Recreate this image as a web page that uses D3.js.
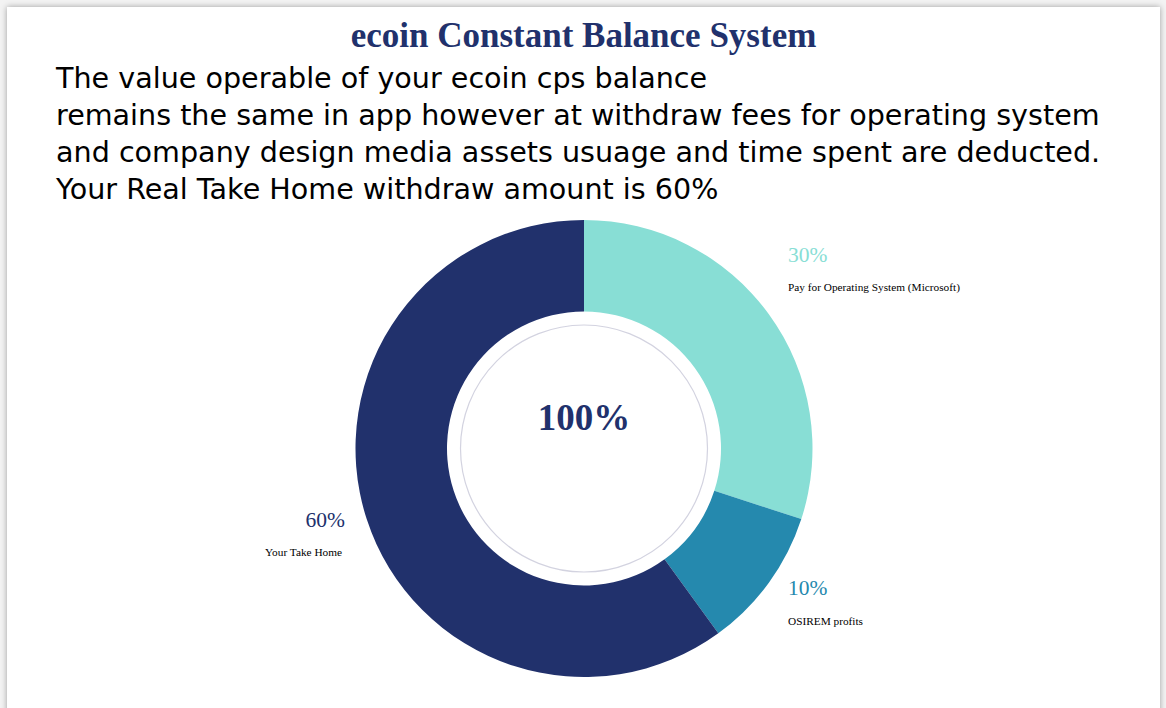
<!DOCTYPE html>
<html>
<head>
<meta charset="utf-8">
<script src="https://cdn.jsdelivr.net/npm/d3@7"></script>
<style>
  html, body { margin: 0; padding: 0; background: #f3f3f3; overflow: hidden; }
  .card {
    position: absolute; left: 7px; top: 7px; width: 1153px; height: 760px;
    background: #fff; box-shadow: 0 0 6px rgba(0,0,0,0.35);
  }
  .card h1 {
    margin: 0; position: absolute; top: 9px; left: 0; width: 100%;
    text-align: center; font-family: "Liberation Serif", serif; font-weight: bold;
    font-size: 35px; color: #21316c;
  }
  .card p {
    margin: 0; position: absolute; left: 49px; top: 53px;
    font-family: "DejaVu Sans", sans-serif; font-size: 28.6px; line-height: 37px; color: #000;
  }
  svg { position: absolute; left: 0; top: 0; }
</style>
</head>
<body>
<div class="card">
  <h1>ecoin Constant Balance System</h1>
  <p>The value operable of your ecoin cps balance<br>remains the same in app however at withdraw fees for operating system<br>and company design media assets usuage and time spent are deducted.<br>Your Real Take Home withdraw amount is 60%</p>
</div>
<svg id="chart" width="1166" height="708"></svg>
<script>
const labels = ["Pay for Operating System (Microsoft)", "OSIREM profits", "Your Take Home"];
const values = [30, 10, 60];
const colors = ["#88ded5", "#2589ae", "#21316c"];
const centerLabel = "100%";

const svg = d3.select("#chart");
const cx = 584, cy = 448.5;
const outerR = 228.5, innerR = 137;

const g = svg.append("g").attr("transform", "translate(" + cx + "," + cy + ")");

const pie = d3.pie().value(d => d).sort(null);
const arc = d3.arc().innerRadius(innerR).outerRadius(outerR);
const arcs = pie(values);

g.selectAll("path.slice")
  .data(arcs)
  .enter().append("path")
  .attr("class", "slice")
  .attr("d", arc)
  .attr("fill", (d, i) => colors[i]);

// thin ring inside the hole
g.append("circle")
  .attr("r", 123.5)
  .attr("fill", "none")
  .attr("stroke", "#d3d3e0")
  .attr("stroke-width", 1.2);

g.append("text")
  .attr("text-anchor", "middle")
  .attr("y", -31)
  .attr("dy", "0.35em")
  .style("font-family", "Liberation Serif, serif")
  .style("font-weight", "bold")
  .style("font-size", "37px")
  .attr("fill", "#21316c")
  .text(centerLabel);

// labels beside each slice, at the height of its mid angle
const total = d3.sum(values);
const midA = d => (d.startAngle + d.endAngle) / 2;
const isRight = d => Math.sin(midA(d)) > 0;
const labelG = g.selectAll("g.lbl")
  .data(arcs)
  .enter().append("g")
  .attr("class", "lbl")
  .attr("transform", (d, i) => {
    const x = isRight(d) ? 204 : -239;
    let y = -Math.cos(midA(d)) * outerR;
    if (i === 0) y -= 60;       // first label sits higher
    if (i === 1) y += 5;
    return "translate(" + x + "," + y + ")";
  });

labelG.append("text")
  .attr("text-anchor", d => isRight(d) ? "start" : "end")
  .attr("dy", "0.35em")
  .style("font-family", "Liberation Serif, serif")
  .style("font-size", "21.5px")
  .attr("fill", (d, i) => colors[i])
  .text(d => Math.round(d.data / total * 100) + "%");

labelG.append("text")
  .attr("text-anchor", d => isRight(d) ? "start" : "end")
  .attr("x", d => isRight(d) ? 0 : -3)
  .attr("y", 33)
  .attr("dy", "0.35em")
  .style("font-family", "Liberation Serif, serif")
  .style("font-size", "11.3px")
  .attr("fill", "#000")
  .text((d, i) => labels[i]);
</script>
</body>
</html>
